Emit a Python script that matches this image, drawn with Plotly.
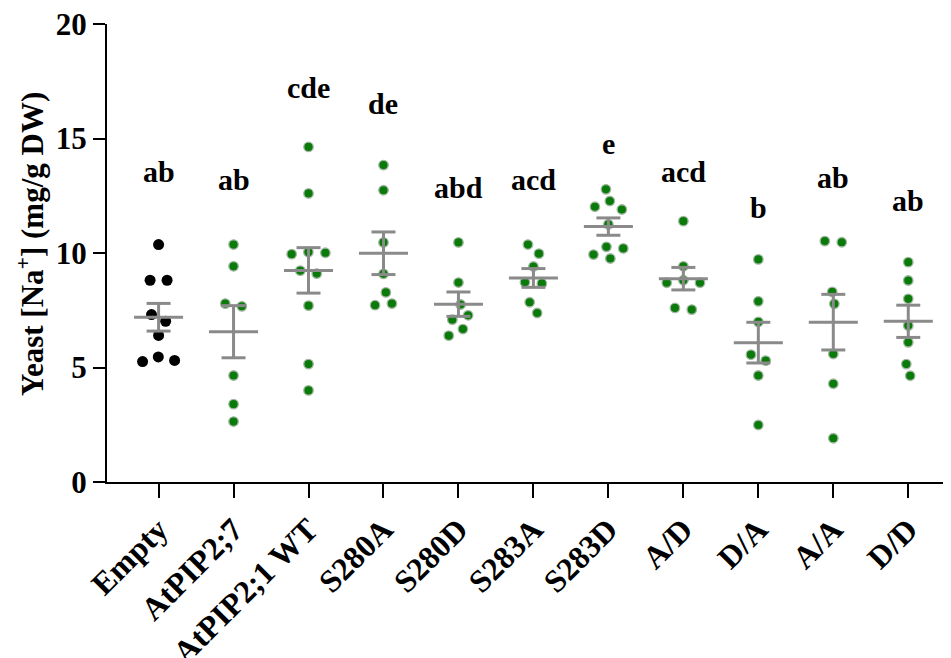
import math
import plotly.graph_objects as go

# ---- data ----
categories = ["Empty", "AtPIP2;7", "AtPIP2;1 WT", "S280A", "S280D", "S283A",
              "S283D", "A/D", "D/A", "A/A", "D/D"]

empty   = [10.37, 8.81, 8.81, 7.31, 7.02, 6.40, 5.46, 5.31, 5.26]
atpip27 = [10.37, 9.42, 7.79, 7.67, 4.65, 3.40, 2.64]
wt      = [14.63, 12.60, 10.04, 10.01, 9.95, 9.23, 9.10, 7.70, 5.15, 4.00]
s280a   = [13.84, 12.74, 10.46, 9.09, 8.28, 7.79, 7.72]
s280d   = [10.46, 8.71, 7.75, 7.28, 7.09, 6.68, 6.39]
s283a   = [10.37, 9.97, 9.41, 8.72, 8.67, 7.85, 7.38]
s283d   = [12.78, 12.27, 12.02, 11.90, 11.25, 10.27, 10.20, 9.93, 9.76]
a_d     = [11.39, 9.42, 8.81, 8.70, 8.70, 7.60, 7.53]
d_a     = [9.72, 7.89, 6.99, 5.56, 5.30, 4.65, 2.49]
a_a     = [10.52, 10.47, 8.30, 7.78, 5.59, 4.29, 1.91]
d_d     = [9.60, 8.80, 8.00, 6.83, 6.10, 5.15, 4.64]

groups = [empty, atpip27, wt, s280a, s280d, s283a, s283d, a_d, d_a, a_a, d_d]

letters  = ["ab", "ab", "cde", "de", "abd", "acd", "e", "acd", "b", "ab", "ab"]
letter_y = [13.10, 12.75, 16.75, 16.06, 12.39, 12.75, 14.31, 13.10, 11.51, 12.82, 11.83]

y_ticks = [0, 5, 10, 15, 20]
y_title = "<b>Yeast [Na<sup>+</sup>] (mg/g DW)</b>"

# ---- layout constants (page has an 8px body margin) ----
W, H = 943, 650
ML, MR, MT, MB = 99, 0, 16, 176
XR = [-0.688, 10.57]
YR = [0, 20]
PX_PER_CAT = (W - ML - MR) / (XR[1] - XR[0])
PX_PER_UNIT = (H - MT - MB) / (YR[1] - YR[0])

FONT = "Liberation Serif, Times New Roman, serif"
GRAY = "#8a8a8a"


def swarm(vals, sx=17.0, sy=12.0):
    """Deterministic beeswarm offsets (in category units)."""
    n = len(vals)
    order = sorted(range(n), key=lambda i: -vals[i])
    placed = []
    xs = [0.0] * n
    for i in order:
        y = vals[i] * PX_PER_UNIT
        forb = []
        for (yj, xj) in placed:
            dy = abs(y - yj)
            if dy < sy:
                w = sx * math.sqrt(1 - (dy / sy) ** 2)
                forb.append((xj - w, xj + w))
        cands = [0.0] + [a for a, b in forb] + [b for a, b in forb]
        cands.sort(key=lambda c: (round(abs(c), 6), -c))
        for c in cands:
            if all(not (a + 1e-6 < c < b - 1e-6) for a, b in forb):
                xs[i] = c
                break
        placed.append((y, xs[i]))
    # recentre chained clusters
    comps = []
    cur = [order[0]]
    for a, b in zip(order[:-1], order[1:]):
        if abs(vals[a] - vals[b]) * PX_PER_UNIT < sy:
            cur.append(b)
        else:
            comps.append(cur)
            cur = [b]
    comps.append(cur)
    for comp in comps:
        lo = min(xs[i] for i in comp)
        hi = max(xs[i] for i in comp)
        sh = -(lo + hi) / 2
        for i in comp:
            xs[i] += sh
    return [x / PX_PER_CAT for x in xs]


fig = go.Figure()

# points
for gi, vals in enumerate(groups):
    offs = swarm(vals)
    is_empty = gi == 0
    fig.add_trace(go.Scatter(
        x=[gi + o for o in offs], y=vals, mode="markers",
        marker=dict(size=11 if is_empty else 9.5,
                    color="black" if is_empty else "#0a7a0a",
                    line=dict(width=0 if is_empty else 1.3,
                              color="black" if is_empty else "#a3b8a3")),
        showlegend=False, hoverinfo="y"))

# mean and SEM lines
mx, my = [], []
for gi, vals in enumerate(groups):
    n = len(vals)
    m = sum(vals) / n
    sd = math.sqrt(sum((v - m) ** 2 for v in vals) / (n - 1))
    se = sd / math.sqrt(n)
    hw, cw = 0.327, 0.16
    mx += [gi - hw, gi + hw, None, gi, gi, None,
           gi - cw, gi + cw, None, gi - cw, gi + cw, None]
    my += [m, m, None, m - se, m + se, None,
           m + se, m + se, None, m - se, m - se, None]
fig.add_trace(go.Scatter(x=mx, y=my, mode="lines",
                         line=dict(color=GRAY, width=3),
                         showlegend=False, hoverinfo="skip"))

# significance letters
for gi, (t, yv) in enumerate(zip(letters, letter_y)):
    fig.add_annotation(x=gi, y=yv, text=f"<b>{t}</b>", showarrow=False,
                       xanchor="center", yanchor="bottom", yshift=-8,
                       font=dict(family=FONT, size=30, color="black"))

# y-axis title
fig.add_annotation(x=0, y=0.5, xref="paper", yref="paper", text=y_title,
                   textangle=-90, showarrow=False, xanchor="center",
                   yanchor="middle", xshift=-77, yshift=9,
                   font=dict(family=FONT, size=31, color="black"))

fig.update_layout(
    width=W, height=H,
    margin=dict(l=ML, r=MR, t=MT, b=MB, autoexpand=False),
    plot_bgcolor="white", paper_bgcolor="white",
    font=dict(family=FONT, color="black"),
    showlegend=False,
)
fig.update_xaxes(
    range=XR, tickmode="array", tickvals=list(range(len(categories))),
    ticktext=[f"<b>{c}</b>" for c in categories], tickangle=-45,
    tickfont=dict(family=FONT, size=32, color="black"),
    showline=True, linecolor="black", linewidth=2,
    ticks="outside", ticklen=14, tickwidth=2, tickcolor="black",
    showgrid=False, zeroline=False, automargin=False,
    ticklabeloverflow="allow",
)
fig.update_yaxes(
    range=YR, tickmode="array", tickvals=y_ticks,
    ticktext=[f"<b>{v}</b>" for v in y_ticks],
    tickfont=dict(family=FONT, size=31, color="black"),
    showline=True, linecolor="black", linewidth=2,
    ticks="outside", ticklen=12, tickwidth=2, tickcolor="black",
    showgrid=False, zeroline=False, automargin=False,
    ticklabeloverflow="allow",
)

fig.write_html("out.html")
